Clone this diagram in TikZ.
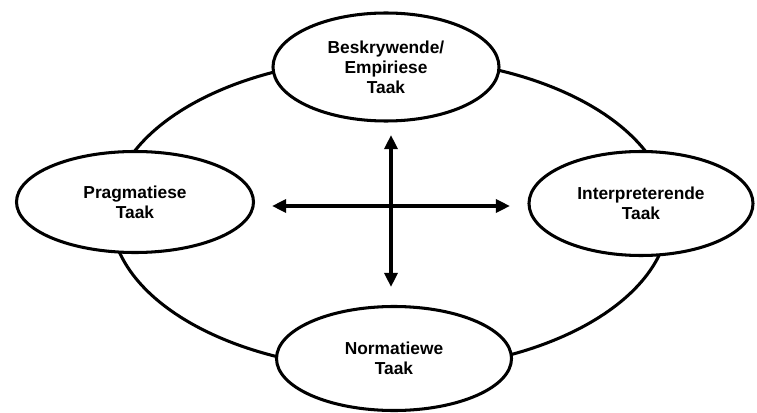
\documentclass[tikz,border=0pt]{standalone}
\usepackage{fontspec}
\setmainfont{Liberation Sans}
\usetikzlibrary{shapes.geometric,arrows.meta}
\tikzset{
  taak/.style={ellipse,draw,line width=2.6pt,fill=white,align=center,
    inner sep=0pt,font=\fontsize{14.8}{17}\selectfont\bfseries},
  pyl/.style={line width=3.4pt,{Triangle[length=12pt,width=11pt]}-{Triangle[length=12pt,width=11pt]}}
}
\begin{document}
\begin{tikzpicture}[x=0.03cm,y=0.03cm]
\useasboundingbox (0,0) rectangle (757,412);
\draw[line width=2.6pt] (390,198) ellipse [x radius=279,y radius=156];
\node[taak,minimum width=6.78cm,minimum height=3.24cm] (beskrywend) at (386,345) {Beskrywende/\\Empiriese\\Taak};
\node[taak,minimum width=7.11cm,minimum height=3.03cm] (pragmaties) at (135,210) {Pragmatiese\\Taak};
\node[taak,minimum width=6.72cm,minimum height=3.12cm] (interpreterend) at (641,208.5) {Interpreterende\\Taak};
\node[taak,minimum width=7.05cm,minimum height=3.12cm] (normatief) at (394,53.5) {Normatiewe\\Taak};
\coordinate (bo) at (391,277);
\coordinate (onder) at (391,125);
\coordinate (links) at (272,206);
\coordinate (regs) at (510,206);
\draw[pyl] (bo) -- (onder);
\draw[pyl] (links) -- (regs);
\end{tikzpicture}
\end{document}
